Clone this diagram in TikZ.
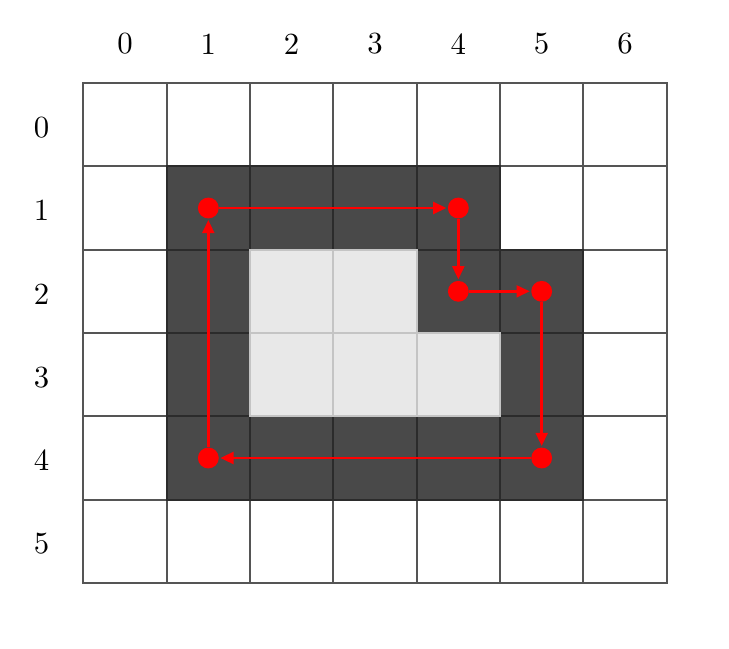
\documentclass[tikz,border=0pt]{standalone}
\usetikzlibrary{arrows.meta}
\definecolor{darkc}{HTML}{494949}
\definecolor{lightc}{HTML}{E8E8E8}
\definecolor{gridc}{HTML}{555555}
\definecolor{darkline}{HTML}{2B2B2B}
\definecolor{lightline}{HTML}{C4C4C4}
\definecolor{redc}{HTML}{FF0000}
\tikzset{
  whitecell/.style={draw=gridc,line width=0.7pt,fill=white},
  darkcell/.style={draw=darkline,line width=0.7pt,fill=darkc},
  lightcell/.style={draw=lightline,line width=0.7pt,fill=lightc},
  lbl/.style={font=\fontsize{10.5}{12}\selectfont},
  dot/.style={circle,fill=redc,inner sep=0pt,minimum size=0.25cm},
  path/.style={draw=redc,line width=1pt,-{Triangle[length=0.16cm,width=0.14cm]},shorten >=0.01cm}
}
\begin{document}
\begin{tikzpicture}
\useasboundingbox (-1,0.996) rectangle (7.748,-6.78);
% white cells
\foreach \c in {0,...,6}{\foreach \r in {0,...,5}{
  \path[whitecell] (\c,-\r) rectangle ++(1,-1);}}
% dark cells
\foreach \c/\r in {1/1,2/1,3/1,4/1,1/2,4/2,5/2,1/3,5/3,1/4,2/4,3/4,4/4,5/4}{
  \path[darkcell] (\c,-\r) rectangle ++(1,-1);}
% light cells
\foreach \c/\r in {2/2,3/2,2/3,3/3,4/3}{
  \path[lightcell] (\c,-\r) rectangle ++(1,-1);}
% outer border again
\draw[gridc,line width=0.7pt] (0,0) rectangle (7,-6);
% labels
\foreach \c in {0,...,6}{\node[lbl] (col\c) at (\c+0.5,0.47) {\c};}
\foreach \r in {0,...,5}{\node[lbl] (row\r) at (-0.5,-\r-0.53) {\r};}
% dots
\node[dot] (a) at (1.5,-1.5) {};
\node[dot] (b) at (4.5,-1.5) {};
\node[dot] (c) at (4.5,-2.5) {};
\node[dot] (d) at (5.5,-2.5) {};
\node[dot] (e) at (5.5,-4.5) {};
\node[dot] (f) at (1.5,-4.5) {};
\draw[path] (a) -- (b);
\draw[path] (b) -- (c);
\draw[path] (c) -- (d);
\draw[path] (d) -- (e);
\draw[path] (e) -- (f);
\draw[path] (f) -- (a);
\end{tikzpicture}
\end{document}
